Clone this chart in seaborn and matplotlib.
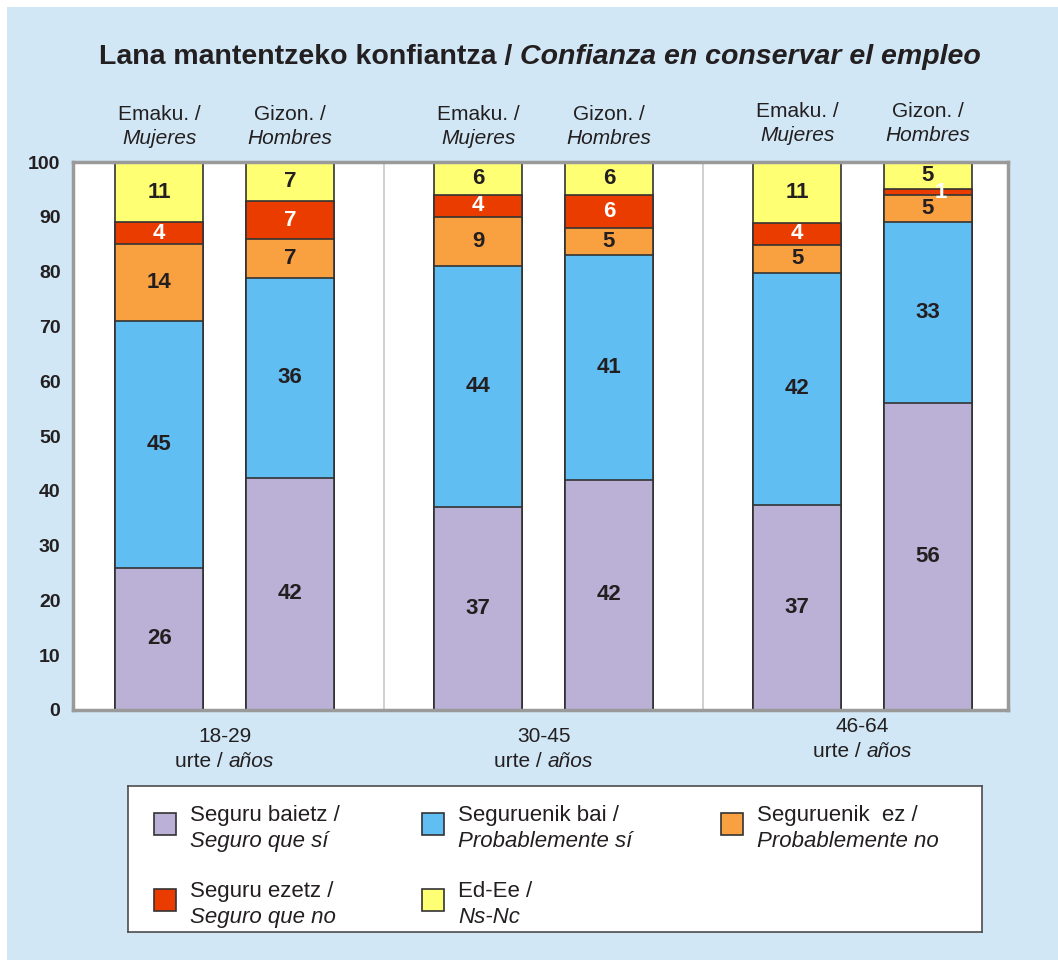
import matplotlib
matplotlib.use("Agg")
import matplotlib.pyplot as plt  # noqa: E402
import pandas as pd  # noqa: E402
import seaborn as sns  # noqa: E402
from matplotlib.patches import Rectangle  # noqa: E402

W, H = 1058, 960

AGES = ["18-29", "30-45", "46-64"]
SEX_EU = ["Emaku. /", "Gizon. /"]
SEX_ES = ["Mujeres", "Hombres"]
ANS_EU = ["Seguru baietz /", "Seguruenik bai /", "Seguruenik  ez /",
          "Seguru ezetz /", "Ed-Ee /"]
ANS_ES = ["Seguro que sí", "Probablemente sí", "Probablemente no",
          "Seguro que no", "Ns-Nc"]
COLORS = ["#BBB0D5", "#60BEF2", "#F9A040", "#EB3C00", "#FFFF73"]

# % per bar: 18-29 women, 18-29 men, 30-45 women, 30-45 men, 46-64 women, 46-64 men
seguru_baietz = [26, 42, 37, 42, 37, 56]
seguruenik_bai = [45, 36, 44, 41, 42, 33]
seguruenik_ez = [14, 7, 9, 5, 5, 5]
seguru_ezetz = [4, 7, 4, 6, 4, 1]
ed_ee = [11, 7, 6, 6, 11, 5]
SERIES = [seguru_baietz, seguruenik_bai, seguruenik_ez, seguru_ezetz, ed_ee]

TXT = "#231f20"

rows = []
for b in range(6):
    vals = [s[b] for s in SERIES]
    tot = sum(vals)
    cum = 0.0
    for k, v in enumerate(vals):
        share = v / tot * 100
        rows.append({"age": AGES[b // 2], "sex": SEX_EU[b % 2], "answer": k,
                     "value": v, "bottom": cum, "top": cum + share})
        cum += share
df = pd.DataFrame(rows)

sns.set_theme(style="white")
plt.rcParams["font.family"] = ["Liberation Sans", "DejaVu Sans"]

fig = plt.figure(figsize=(W / 100, H / 100), dpi=100)
fig.patch.set_facecolor("white")
fig.add_artist(Rectangle((7 / W, 0), 1, 1 - 7 / H, transform=fig.transFigure,
                         facecolor="#D1E7F5", edgecolor="none", zorder=-10))

ax = fig.add_axes([73 / W, 1 - 710 / H, (1008 - 73) / W, (710 - 162) / H])
ax.set_facecolor("white")

# cumulative layers drawn top-down so each one shows its own segment
centers = {}
for k in reversed(range(len(SERIES))):
    sub = df[df["answer"] == k]
    sns.barplot(data=sub, x="age", y="top", hue="sex", order=AGES,
                hue_order=SEX_EU, palette=[COLORS[k]] * 2, width=0.82,
                gap=0.33, dodge=True, saturation=1, errorbar=None,
                edgecolor="#333333", linewidth=1.2, legend=False, ax=ax)
    for cont, sex in zip(ax.containers[-2:], SEX_EU):
        for patch, age in zip(cont.patches, AGES):
            centers[(age, sex)] = patch.get_x() + patch.get_width() / 2

for _, r in df.iterrows():
    x = centers[(r["age"], r["sex"])]
    dx = 0.04 if r["value"] < 2 else 0
    ax.text(x + dx, (r["bottom"] + r["top"]) / 2, f"{r['value']}",
            ha="center", va="center", fontsize=16, fontweight="bold",
            color="white" if r["answer"] == 3 else TXT, zorder=5)

ax.set_xlim(-0.475, 2.456)
ax.set_ylim(0, 100)
ax.set_yticks(range(0, 101, 10))
ax.set_yticklabels([str(v) for v in range(0, 101, 10)], fontsize=14,
                   fontweight="bold", color=TXT)
ax.tick_params(axis="y", length=0, pad=9)
ax.set_xticks([])
ax.set_xlabel("")
ax.set_ylabel("")
for sp in ax.spines.values():
    sp.set_color("#9A9A9A")
    sp.set_linewidth(2.5)
for i in range(len(AGES) - 1):
    ax.axvline(i + 0.5, color="#C8C8C8", lw=1.2, zorder=0)

# column headers
for (age, sex), xc in centers.items():
    j = SEX_EU.index(sex)
    lift = 3 if age == AGES[-1] else 0
    ax.annotate(sex, xy=(xc, 1), xycoords=("data", "axes fraction"),
                xytext=(0, 42 + lift), textcoords="offset pixels",
                ha="center", va="baseline", fontsize=15, color=TXT)
    ax.annotate(SEX_ES[j], xy=(xc, 1), xycoords=("data", "axes fraction"),
                xytext=(0, 18 + lift), textcoords="offset pixels",
                ha="center", va="baseline", fontsize=15, style="italic",
                color=TXT)


def put_mixed(x_px, y_top, parts, size, **kw):
    """Centre a row of differently styled pieces at display x / y from top."""
    renderer = fig.canvas.get_renderer()
    texts = [fig.text(0, 0, s, fontsize=size, va="baseline", color=TXT,
                      **kw, **st) for s, st in parts]
    widths = [t.get_window_extent(renderer).width for t in texts]
    gap = 0.28 * size * 100 / 72
    x = x_px - (sum(widths) + gap * (len(parts) - 1)) / 2
    for t, w in zip(texts, widths):
        t.set_position((x / W, 1 - y_top / H))
        x += w + gap


put_mixed(540, 64, [("Lana mantentzeko konfiantza /", {}),
                    ("Confianza en conservar el empleo", {"style": "italic"})],
          20.5, fontweight="bold")

for i, age in enumerate(AGES):
    xc = ax.transData.transform((i, 0))[0]
    lift = 10 if i == 2 else 0
    fig.text(xc / W, 1 - (742 - lift) / H, age, ha="center", va="baseline",
             fontsize=15, color=TXT)
    put_mixed(xc, 767 - lift, [("urte /", {}), ("años", {"style": "italic"})], 15)

# legend box
lg = fig.add_axes([128 / W, 1 - 932 / H, (982 - 128) / W, (932 - 786) / H])
lg.set_xlim(0, 854)
lg.set_ylim(146, 0)
lg.set_xticks([])
lg.set_yticks([])
lg.set_facecolor("white")
for sp in lg.spines.values():
    sp.set_color("#4d4d4d")
    sp.set_linewidth(1.2)
col_x = [26, 294, 593]
row_y = [27, 103]
for k in range(len(SERIES)):
    cx, ry = col_x[k % 3], row_y[k // 3]
    lg.add_patch(Rectangle((cx, ry), 22, 22, facecolor=COLORS[k],
                           edgecolor="#333333", lw=1.2))
    lg.text(cx + 36, ry + 8, ANS_EU[k], fontsize=16, va="baseline", color=TXT)
    lg.text(cx + 36, ry + 34, ANS_ES[k], fontsize=16, va="baseline",
            style="italic", color=TXT)

fig.savefig("out.png", dpi=100)
